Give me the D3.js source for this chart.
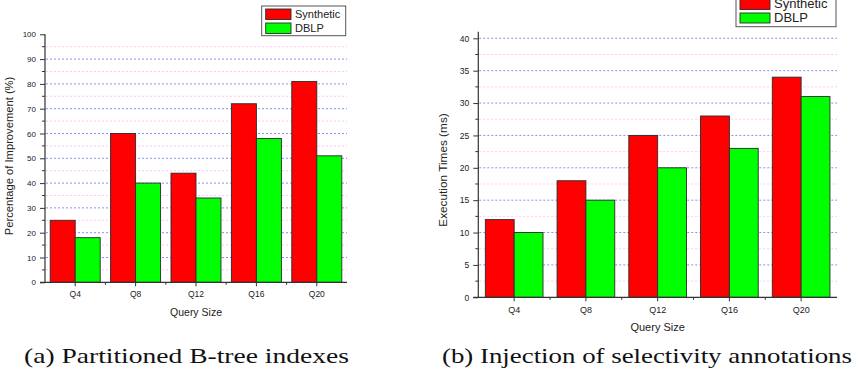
<!DOCTYPE html>
<html>
<head>
<meta charset="utf-8">
<script src="https://cdn.jsdelivr.net/npm/d3@7/dist/d3.min.js"></script>
<style>
  body { margin: 0; background: #fff; }
  svg text { font-family: "Liberation Sans", Arial, sans-serif; fill: #222; }
  svg text.caption { font-family: "Liberation Serif", "Times New Roman", serif; fill: #111; }
</style>
</head>
<body>
<div id="chart"></div>
<script>
const categories = ['Q4', 'Q8', 'Q12', 'Q16', 'Q20'];
const seriesNames = ['Synthetic', 'DBLP'];
const colors = ['#ff0000', '#00ff00'];

// (a) Partitioned B-tree indexes
const improvementSynthetic = [25, 60, 44, 72, 81];
const improvementDblp = [18, 40, 34, 58, 51];
const improvementTicks = [0, 10, 20, 30, 40, 50, 60, 70, 80, 90, 100];

// (b) Injection of selectivity annotations
const execSynthetic = [12, 18, 25, 28, 34];
const execDblp = [10, 15, 20, 23, 31];
const execTicks = [0, 5, 10, 15, 20, 25, 30, 35, 40];

const svg = d3.select('#chart').append('svg')
  .attr('width', 856)
  .attr('height', 378);

function drawPanel(cfg) {
  const g = svg.append('g');

  const x = d3.scaleBand()
    .domain(categories)
    .range([cfg.left, cfg.right])
    .paddingInner(cfg.pad)
    .paddingOuter(cfg.pad / 2);

  const xSub = d3.scaleBand()
    .domain(seriesNames)
    .range([0, x.bandwidth()]);

  const y = d3.scaleLinear()
    .domain([0, cfg.max])
    .range([cfg.bottom, cfg.top]);

  const step = cfg.ticks[1] - cfg.ticks[0];
  const minor = cfg.ticks.slice(0, -1).map(t => t + step / 2);

  // grid lines: pink at minor, blue at major
  g.selectAll('.gmin')
    .data(minor)
    .enter().append('line')
    .attr('x1', cfg.left + 1).attr('x2', cfg.right)
    .attr('y1', d => y(d)).attr('y2', d => y(d))
    .attr('stroke', '#ffc8f0')
    .attr('stroke-width', 1)
    .attr('stroke-dasharray', '2,2');

  g.selectAll('.gmaj')
    .data(cfg.ticks.filter(t => t > 0 && t <= cfg.gridMax))
    .enter().append('line')
    .attr('x1', cfg.left + 1).attr('x2', cfg.right)
    .attr('y1', d => y(d)).attr('y2', d => y(d))
    .attr('stroke', '#8c8cf5')
    .attr('stroke-width', 1)
    .attr('stroke-dasharray', '2,2');

  // bars
  const rows = categories.map((c, i) => ({ cat: c, vals: [cfg.s1[i], cfg.s2[i]] }));
  const grp = g.selectAll('.grp')
    .data(rows)
    .enter().append('g')
    .attr('transform', d => 'translate(' + x(d.cat) + ',0)');

  grp.selectAll('rect')
    .data(d => d.vals.map((v, j) => ({ key: seriesNames[j], v: v, j: j })))
    .enter().append('rect')
    .attr('x', d => xSub(d.key))
    .attr('y', d => y(d.v))
    .attr('width', xSub.bandwidth())
    .attr('height', d => y(0) - y(d.v))
    .attr('fill', d => colors[d.j])
    .attr('stroke', '#2a2a2a')
    .attr('stroke-width', 0.9);

  // y axis
  const yAxis = g.append('g')
    .attr('transform', 'translate(' + cfg.left + ',0)')
    .call(d3.axisLeft(y).tickValues(cfg.ticks).tickSize(5).tickPadding(4).tickSizeOuter(0));
  yAxis.select('.domain').remove();
  yAxis.selectAll('.tick line').attr('stroke', '#333');
  yAxis.selectAll('.tick text')
    .style('font-size', cfg.tickFont + 'px')
    .attr('fill', '#222');
  g.append('line')
    .attr('x1', cfg.left).attr('x2', cfg.left)
    .attr('y1', cfg.axisTop).attr('y2', cfg.bottom + 0.5)
    .attr('stroke', '#333').attr('stroke-width', 1.2);
  g.selectAll('.ymin')
    .data(minor)
    .enter().append('line')
    .attr('x1', cfg.left - 3).attr('x2', cfg.left)
    .attr('y1', d => y(d)).attr('y2', d => y(d))
    .attr('stroke', '#333');

  // x axis
  const xAxis = g.append('g')
    .attr('transform', 'translate(0,' + cfg.bottom + ')')
    .call(d3.axisBottom(x).tickSize(4).tickPadding(5).tickSizeOuter(0));
  xAxis.select('.domain').remove();
  xAxis.selectAll('.tick line').attr('stroke', '#333');
  xAxis.selectAll('.tick text')
    .style('font-size', cfg.xFont + 'px')
    .attr('fill', '#222');
  g.append('line')
    .attr('x1', cfg.left - 5).attr('x2', cfg.right)
    .attr('y1', cfg.bottom).attr('y2', cfg.bottom)
    .attr('stroke', '#333').attr('stroke-width', 1.2);
  const bounds = categories.slice(1).map(c => x(c) - x.step() * cfg.pad / 2);
  g.selectAll('.xmin')
    .data(bounds)
    .enter().append('line')
    .attr('x1', d => d).attr('x2', d => d)
    .attr('y1', cfg.bottom).attr('y2', cfg.bottom + 2.5)
    .attr('stroke', '#333');

  // axis titles
  g.append('text')
    .attr('transform', 'translate(' + cfg.yTitleX + ',' + cfg.yTitleY + ') rotate(-90)')
    .attr('text-anchor', 'middle')
    .style('font-size', cfg.yTitleFont + 'px')
    .text(cfg.yTitle);

  g.append('text')
    .attr('x', (cfg.left + cfg.right) / 2)
    .attr('y', cfg.bottom + 34)
    .attr('text-anchor', 'middle')
    .style('font-size', cfg.titleFont + 'px')
    .text('Query Size');

  // legend
  const lg = g.append('g').attr('transform', 'translate(' + cfg.legX + ',' + cfg.legY + ')');
  lg.append('rect')
    .attr('x', 0).attr('y', 0)
    .attr('width', cfg.legW).attr('height', cfg.legH)
    .attr('fill', '#fff')
    .attr('stroke', '#555').attr('stroke-width', 1);
  seriesNames.forEach((name, j) => {
    lg.append('rect')
      .attr('x', 4).attr('y', 3 + j * cfg.legRow)
      .attr('width', cfg.swW).attr('height', cfg.legRow - 3.5)
      .attr('fill', colors[j])
      .attr('stroke', '#2a2a2a').attr('stroke-width', 0.9);
    lg.append('text')
      .attr('x', cfg.swW + 8)
      .attr('y', 3 + j * cfg.legRow + cfg.legRow - 5)
      .style('font-size', cfg.legFont + 'px')
      .text(name);
  });

  // caption
  svg.append('text')
    .attr('class', 'caption')
    .attr('x', cfg.capX)
    .attr('y', 363)
    .attr('textLength', cfg.capW)
    .attr('lengthAdjust', 'spacingAndGlyphs')
    .style('font-size', '21px')
    .text(cfg.caption);
}

drawPanel({
  s1: improvementSynthetic, s2: improvementDblp, ticks: improvementTicks,
  max: 100, gridMax: 90,
  left: 45, right: 347, top: 34.3, bottom: 282.3, axisTop: 34.3, pad: 0.172,
  tickFont: 8, xFont: 8.5, titleFont: 10.5, yTitleFont: 11.2,
  yTitle: 'Percentage of Improvement (%)', yTitleX: 12.5, yTitleY: 156,
  legX: 261.7, legY: 6, legW: 84, legH: 29.7, legRow: 14, swW: 25.3, legFont: 11,
  caption: '(a) Partitioned B-tree indexes', capX: 24, capW: 325
});

drawPanel({
  s1: execSynthetic, s2: execDblp, ticks: execTicks,
  max: 40, gridMax: 40,
  left: 478.3, right: 837, top: 38.3, bottom: 297.3, axisTop: 31.7, pad: 0.196,
  tickFont: 8.5, xFont: 9, titleFont: 11, yTitleFont: 11.8,
  yTitle: 'Execution Times (ms)', yTitleX: 447, yTitleY: 170,
  legX: 736, legY: -3.5, legW: 100, legH: 30.2, legRow: 13.5, swW: 30, legFont: 13,
  caption: '(b) Injection of selectivity annotations', capX: 442, capW: 410
});
</script>
</body>
</html>
